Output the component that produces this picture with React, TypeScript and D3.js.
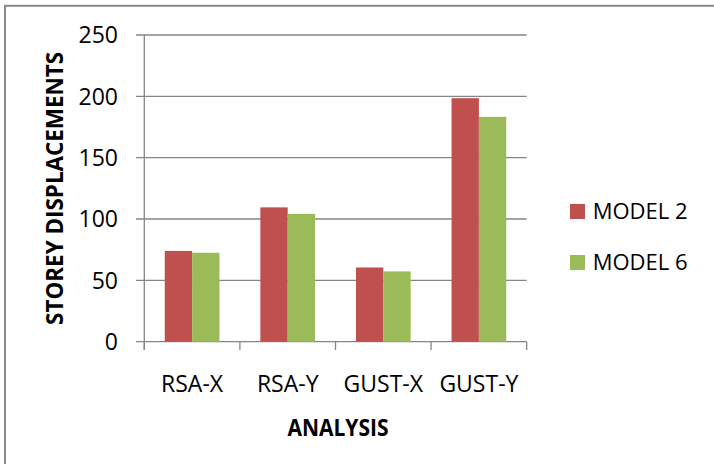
import React from "react";
import * as d3 from "d3";

const categories = ["RSA-X", "RSA-Y", "GUST-X", "GUST-Y"];
const seriesNames = ["MODEL 2", "MODEL 6"];
const model2 = [74, 109.5, 60.5, 198.5];
const model6 = [72.5, 104.2, 57.3, 183.3];
const yTicks = [0, 50, 100, 150, 200, 250];
const colors = ["#C0504D", "#9BBB59"];

const W = 714;
const H = 464;
const FONT = "'Open Sans', 'Liberation Sans', sans-serif";

export default function App() {
  const left = 144.3;
  const right = 526.7;
  const top = 35;
  const bottom = 341.7;

  const x = d3.scaleBand<string>().domain(categories).range([left, right]).padding(0);
  const y = d3.scaleLinear().domain([0, 250]).range([bottom, top]);
  const groupW = x.bandwidth() * 0.572;
  const sub = d3.scaleBand<string>().domain(seriesNames).range([0, groupW]).padding(0);
  const series = [model2, model6];
  const grid = "#868686";
  const boundaries = [...categories.map((c) => x(c) as number), right];

  return (
    <svg
      width={W}
      height={H}
      style={{ position: "absolute", left: 0, top: 0, background: "#fff" }}
      fontFamily={FONT}
    >
      <rect x={0} y={0} width={W} height={H} fill="#fff" />
      <rect x={5} y={5.8} width={900} height={900} fill="none" stroke="#8a8a8a" strokeWidth={2} />

      {/* gridlines + y ticks */}
      {yTicks.map((t) => (
        <g key={t}>
          <line x1={136} x2={right} y1={y(t)} y2={y(t)} stroke={grid} strokeWidth={1.3} />
          <text x={118} y={y(t) + 8.3} textAnchor="end" fontSize={23} fill="#000">
            {t}
          </text>
        </g>
      ))}
      {/* y axis */}
      <line x1={left} x2={left} y1={top} y2={350} stroke={grid} strokeWidth={1.3} />
      {/* x ticks */}
      {boundaries.map((b, i) => (
        <line key={i} x1={b} x2={b} y1={bottom} y2={350} stroke={grid} strokeWidth={1.3} />
      ))}

      {/* bars */}
      {categories.map((c, ci) => {
        const gx = (x(c) as number) + (x.bandwidth() - groupW) / 2;
        return series.map((s, si) => (
          <rect
            key={c + si}
            x={gx + (sub(seriesNames[si]) as number)}
            y={y(s[ci])}
            width={sub.bandwidth()}
            height={bottom - y(s[ci])}
            fill={colors[si]}
          />
        ));
      })}

      {/* x labels */}
      {categories.map((c) => (
        <text
          key={c}
          x={(x(c) as number) + x.bandwidth() / 2}
          y={391.7}
          textAnchor="middle"
          fontSize={23}
          fill="#000"
        >
          {c}
        </text>
      ))}

      {/* axis titles */}
      <text
        x={338}
        y={436}
        textAnchor="middle"
        fontSize={23}
        fontWeight="bold"
        fill="#000"
        textLength={101}
        lengthAdjust="spacingAndGlyphs"
      >
        ANALYSIS
      </text>
      <text
        transform={`translate(63.3, 188.4) rotate(-90)`}
        textAnchor="middle"
        fontSize={23}
        fontWeight="bold"
        fill="#000"
        textLength={273}
        lengthAdjust="spacingAndGlyphs"
      >
        STOREY DISPLACEMENTS
      </text>

      {/* legend */}
      {seriesNames.map((n, i) => (
        <g key={n} transform={`translate(570, ${204 + i * 51})`}>
          <rect x={0} y={0} width={15} height={15} fill={colors[i]} />
          <text x={22.7} y={15.3} fontSize={22} fill="#000">
            {n}
          </text>
        </g>
      ))}
    </svg>
  );
}
